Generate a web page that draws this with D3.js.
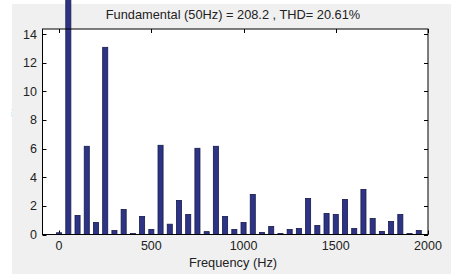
<!DOCTYPE html>
<html>
<head>
<meta charset="utf-8">
<script src="https://cdn.jsdelivr.net/npm/d3@7"></script>
<style>
  html, body { margin: 0; padding: 0; background: #fff; }
  svg { display: block; font-family: "Liberation Sans", Arial, sans-serif; }
</style>
</head>
<body>
<div id="graph"></div>
<script>
// harmonic frequencies (Hz) and magnitudes (% of fundamental)
var freqs = [0, 50, 100, 150, 200, 250, 300, 350, 400, 450, 500, 550, 600, 650, 700, 750, 800, 850, 900, 950,
             1000, 1050, 1100, 1150, 1200, 1250, 1300, 1350, 1400, 1450, 1500, 1550, 1600, 1650, 1700, 1750, 1800, 1850, 1900, 1950];
var mags = [0.12, 100, 1.33, 6.16, 0.84, 13.07, 0.28, 1.75, 0.07, 1.26, 0.35, 6.23, 0.72, 2.38, 1.4, 6.02, 0.2, 6.16, 1.26, 0.35,
            0.84, 2.8, 0.14, 0.56, 0.07, 0.35, 0.42, 2.52, 0.63, 1.47, 1.4, 2.45, 0.42, 3.15, 1.12, 0.21, 0.91, 1.4, 0.07, 0.28];
var xTicks = [0, 500, 1000, 1500, 2000];
var yTicks = [0, 2, 4, 6, 8, 10, 12, 14];
var titleText = 'Fundamental (50Hz) = 208.2 , THD= 20.61%';
var xLabel = 'Frequency (Hz)';
var yLabel = 'Mag (% of Fundamental)';

var W = 459, H = 279
  , plot = { left: 42.5, right: 428, top: 29, bottom: 234.5 }
  , svg, x, y, data, barW;

svg = d3.select('#graph').append('svg')
  .attr('width', W).attr('height', H);

// figure background
svg.append('rect')
  .attr('x', 12).attr('y', 4)
  .attr('width', 439).attr('height', 270)
  .attr('fill', '#f0f0f0');

x = d3.scaleLinear().domain([-90, 2000]).range([plot.left, plot.right]);
y = d3.scaleLinear().domain([0, 14.35]).range([plot.bottom, plot.top]);

svg.append('rect')
  .attr('x', plot.left).attr('y', plot.top)
  .attr('width', plot.right - plot.left).attr('height', plot.bottom - plot.top)
  .attr('fill', '#fff');

data = freqs.map(function (f, i) { return { f: f, v: mags[i] }; });
barW = x(27.5) - x(0);

// ticks inward on all four sides, like matlab's box
var g = svg.append('g');
g.selectAll('.xt').data(xTicks).enter().append('path')
  .attr('d', function (d) {
    var px = Math.round(x(d)) + 0.5;
    return 'M' + px + ',' + plot.bottom + 'v-4M' + px + ',' + plot.top + 'v4';
  })
  .attr('stroke', '#000').attr('stroke-width', 1);
g.selectAll('.yt').data(yTicks).enter().append('path')
  .attr('d', function (d) {
    var py = Math.round(y(d)) + 0.5;
    return 'M' + plot.left + ',' + py + 'h4M' + plot.right + ',' + py + 'h-4';
  })
  .attr('stroke', '#000').attr('stroke-width', 1);

// bars (no clipping, the fundamental runs off the top)
svg.selectAll('.bar').data(data).enter().append('rect')
  .attr('x', function (d) { return x(d.f) - barW / 2; })
  .attr('y', function (d) { return Math.max(-5, y(d.v)); })
  .attr('width', barW)
  .attr('height', function (d) { return plot.bottom - Math.max(-5, y(d.v)); })
  .attr('fill', '#2e3485')
  .attr('stroke', '#161a4a')
  .attr('stroke-width', 0.8);

// axes box
svg.append('rect')
  .attr('x', plot.left).attr('y', plot.top)
  .attr('width', plot.right - plot.left).attr('height', plot.bottom - plot.top)
  .attr('fill', 'none').attr('stroke', '#000').attr('stroke-width', 1);

g.selectAll('.xl').data(xTicks).enter().append('text')
  .attr('x', function (d) { return x(d); })
  .attr('y', 250)
  .attr('text-anchor', 'middle')
  .attr('font-size', 12.5)
  .attr('fill', '#222')
  .text(function (d) { return d; });

g.selectAll('.yl').data(yTicks).enter().append('text')
  .attr('x', 37)
  .attr('y', function (d) { return y(d) + 4.5; })
  .attr('text-anchor', 'end')
  .attr('font-size', 12.5)
  .attr('fill', '#222')
  .text(function (d) { return d; });

svg.append('text')
  .attr('x', 233).attr('y', 19)
  .attr('text-anchor', 'middle')
  .attr('font-size', 12.8)
  .attr('fill', '#222')
  .text(titleText);

svg.append('text')
  .attr('x', 233).attr('y', 267)
  .attr('text-anchor', 'middle')
  .attr('font-size', 12.8)
  .attr('fill', '#222')
  .text(xLabel);

// y label is cut off by the screenshot, only its edge shows
svg.append('clipPath').attr('id', 'ycut')
  .append('rect').attr('x', 12).attr('y', 0).attr('width', 10).attr('height', H);
svg.append('text')
  .attr('clip-path', 'url(#ycut)')
  .attr('transform', 'translate(11,131) rotate(-90)')
  .attr('text-anchor', 'middle')
  .attr('font-size', 12)
  .attr('fill', '#444')
  .text(yLabel);
</script>
</body>
</html>
